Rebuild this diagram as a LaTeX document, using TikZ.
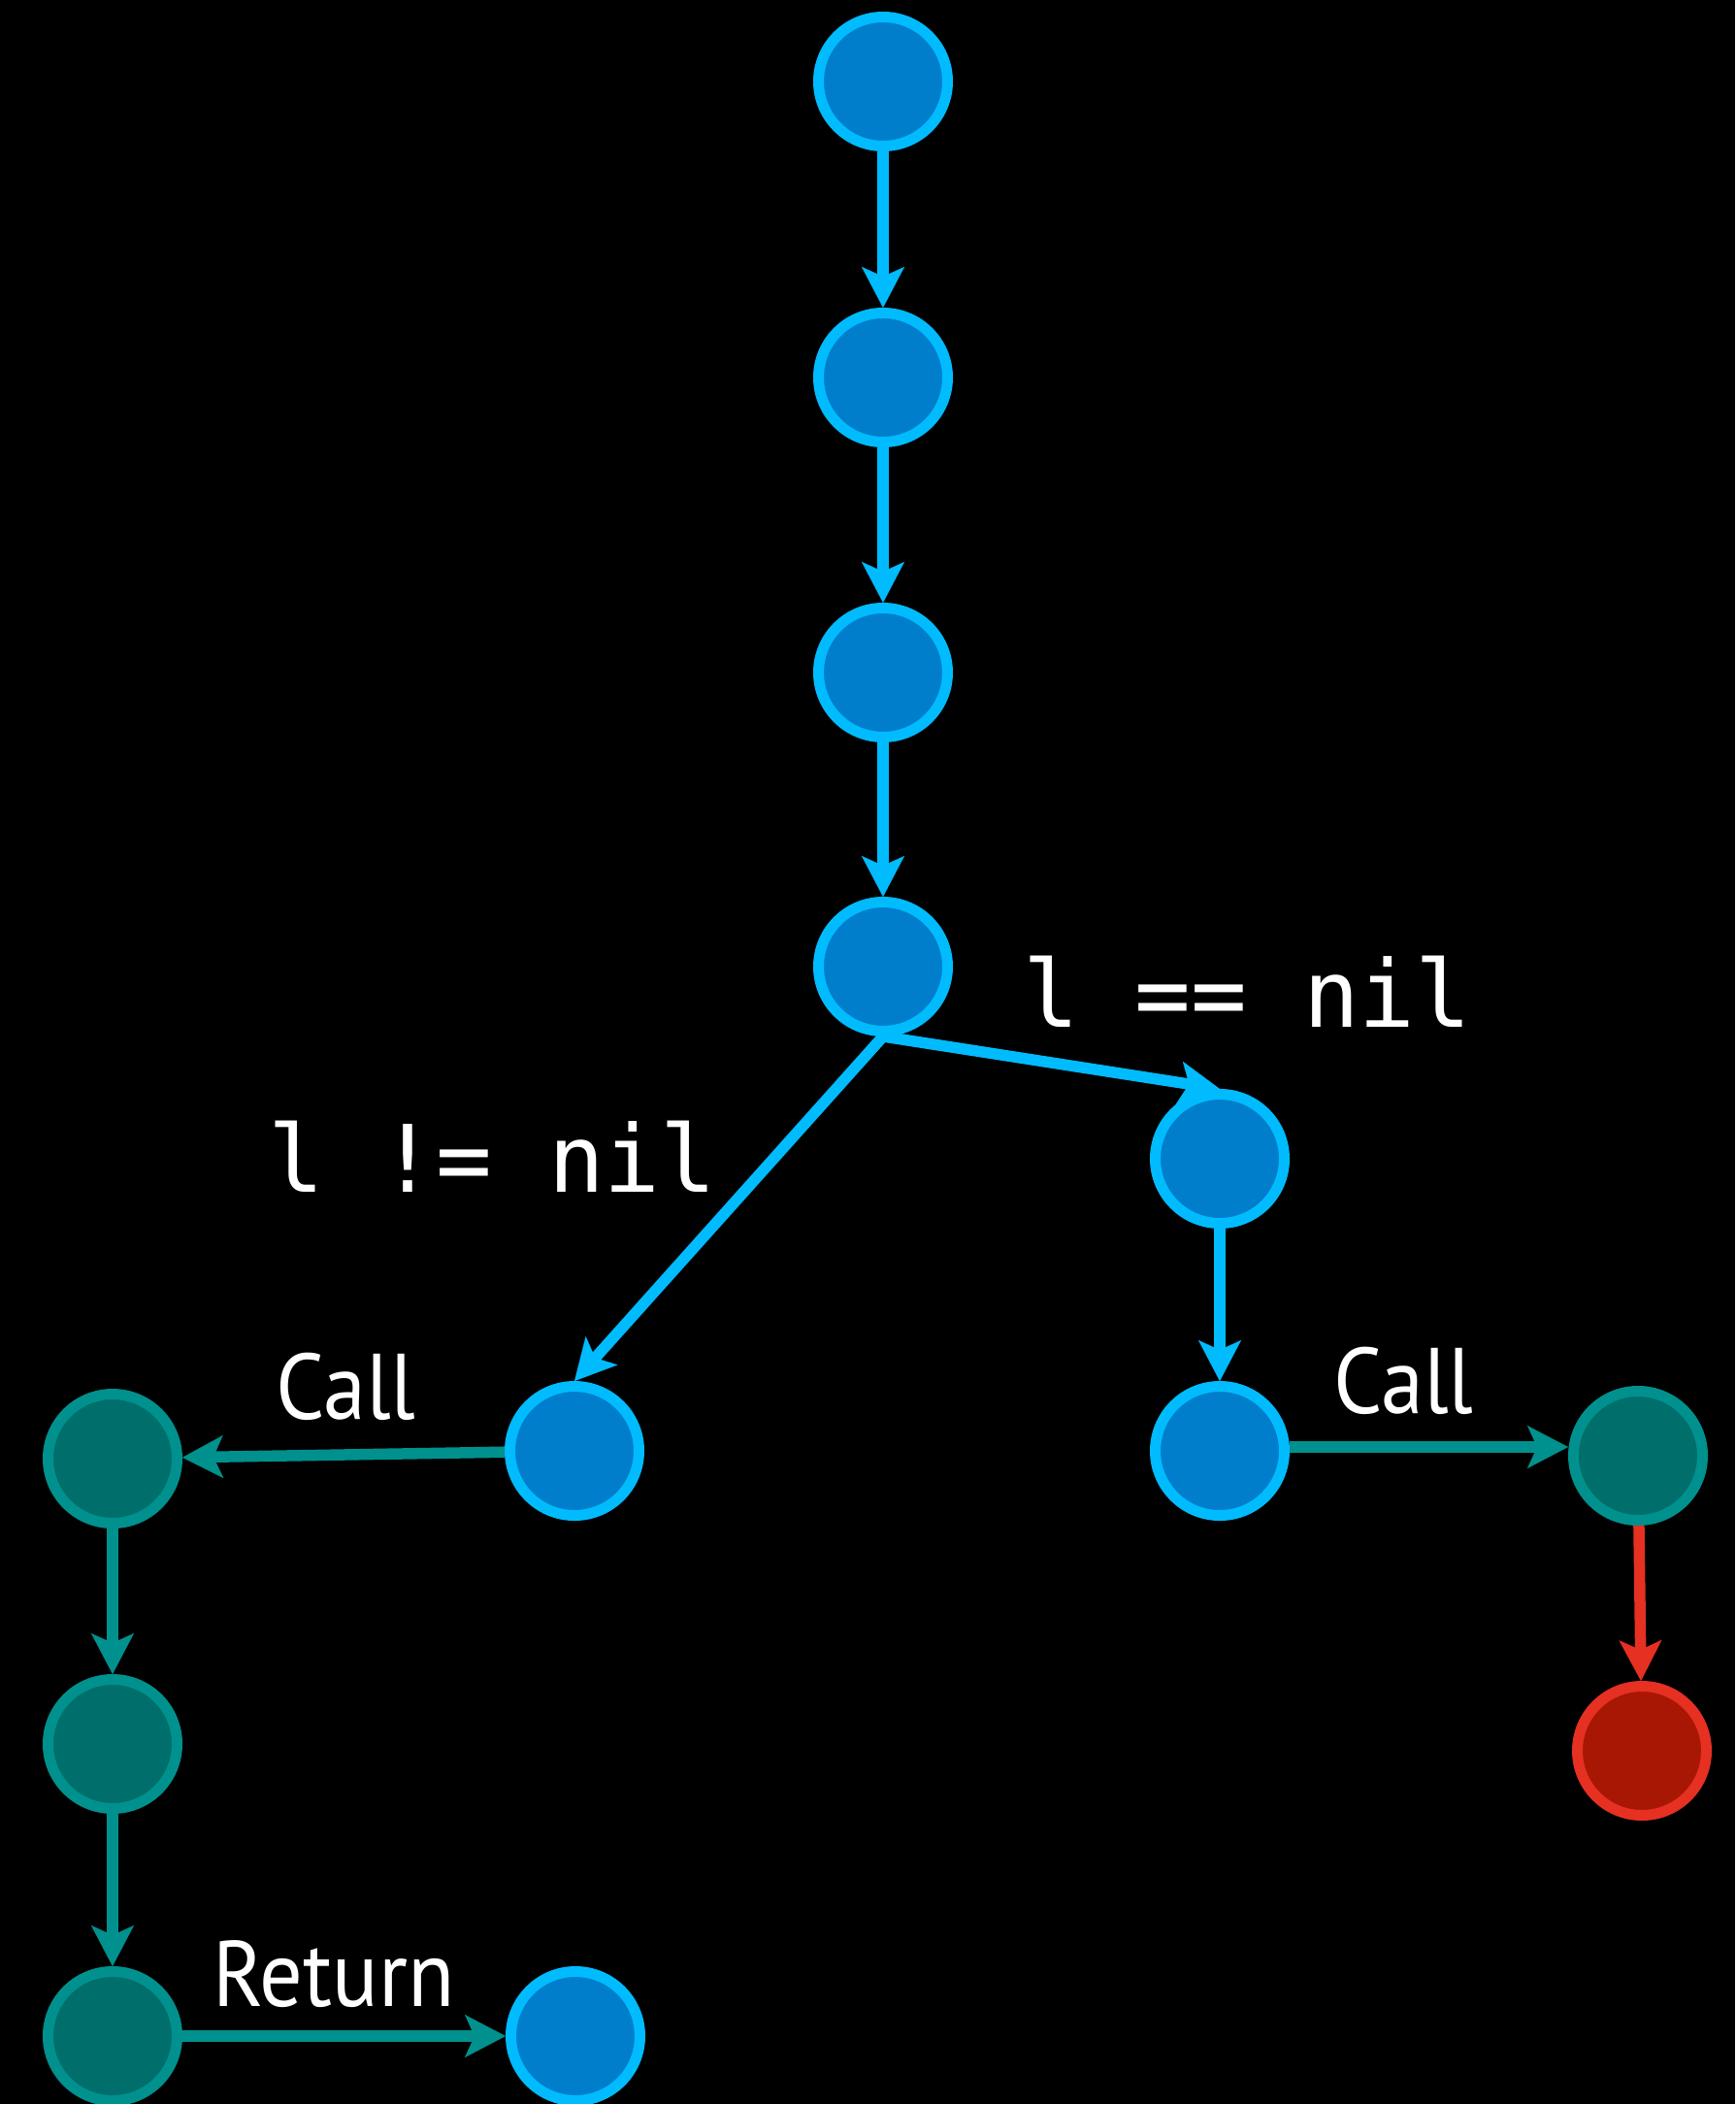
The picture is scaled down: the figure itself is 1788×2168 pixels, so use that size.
\documentclass[tikz,border=0pt]{standalone}
\usepackage{fontspec}
\newfontfamily\labelfont[FakeStretch=0.92]{PT Sans}
\newfontfamily\codefont{DejaVu Sans Mono}
\usetikzlibrary{arrows.meta}
\definecolor{bfill}{RGB}{0,126,204}
\definecolor{bline}{RGB}{0,188,255}
\definecolor{tfill}{RGB}{0,110,107}
\definecolor{tline}{RGB}{0,145,142}
\definecolor{rfill}{RGB}{168,23,3}
\definecolor{rline}{RGB}{229,48,34}
\begin{document}
\begin{tikzpicture}[x=1pt,y=-1pt,
  state/.style={circle,minimum size=133pt,inner sep=0pt,line width=11pt},
  bnode/.style={state,draw=bline,fill=bfill},
  tnode/.style={state,draw=tline,fill=tfill},
  rnode/.style={state,draw=rline,fill=rfill},
  tip/.style={-{Stealth[length=42pt,width=44pt,inset=10pt,line width=0.1pt]}},
  bedge/.style={tip,draw=bline,line width=11.5pt},
  tedge/.style={tip,draw=tline,line width=11.5pt},
  redge/.style={tip,draw=rline,line width=11.5pt},
  codelbl/.style={text=white,anchor=base west,inner sep=0pt,font=\codefont\fontsize{96}{96}\selectfont},
  lbl/.style={text=white,anchor=base west,inner sep=0pt,font=\labelfont\fontsize{96}{96}\selectfont}]
\fill[black] (0,0) rectangle (1788,2168);
\useasboundingbox (0,0) rectangle (1788,2168);
\node[bnode] (n1) at (910,84) {};
\node[bnode] (n2) at (910,389) {};
\node[bnode] (n3) at (910,693) {};
\node[bnode] (n4) at (910,996) {};
\node[bnode] (n5) at (1257,1194) {};
\node[bnode] (n6) at (592,1495) {};
\node[bnode] (n7) at (1257,1495) {};
\node[tnode] (t1) at (116,1503) {};
\node[tnode] (t2) at (116,1797) {};
\node[tnode] (t3) at (116,2098) {};
\node[bnode] (n8) at (593,2098) {};
\node[tnode] (t4) at (1688,1500) {};
\node[rnode] (r1) at (1692,1804) {};
\draw[bedge] (n1) -- (n2);
\draw[bedge] (n2) -- (n3);
\draw[bedge] (n3) -- (n4);
\draw[bedge] (n4.south) -- (n5.north);
\draw[bedge] (n4.south) -- (n6.north);
\draw[bedge] (n5) -- (n7);
\draw[tedge] (n6) -- (t1);
\draw[tedge] ([yshift=4pt]n7.east) -- ([yshift=9pt]t4.west);
\draw[tedge] (t1) -- (t2);
\draw[tedge] (t2) -- (t3);
\draw[tedge] (t3) -- (n8);
\draw[redge] (t4) -- (r1);
\node[codelbl] (c1) at (1054,1058) {l == nil};
\node[codelbl] (c2) at (276,1228) {l != nil};
\node[lbl] (l1) at (284,1462) {Call};
\node[lbl] (l2) at (1374,1456) {Call};
\node[lbl] (l3) at (219,2067) {Return};
\end{tikzpicture}
\end{document}
